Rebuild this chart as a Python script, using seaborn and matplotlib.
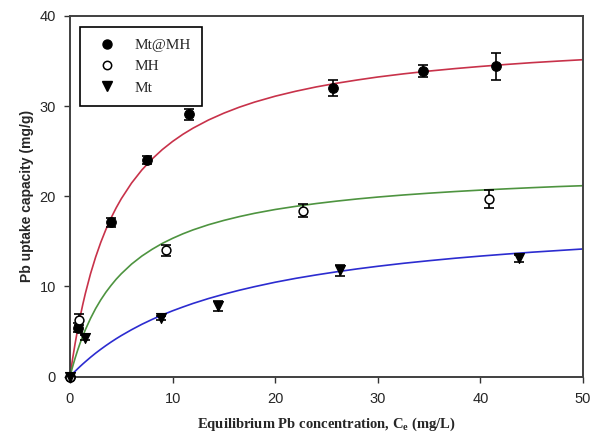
import numpy as np
import pandas as pd
import matplotlib
matplotlib.use("Agg")
import matplotlib.pyplot as plt
from matplotlib.lines import Line2D
import seaborn as sns

# ---- measured points ----
mtmh_x = [0.0, 0.8, 4.0, 7.5, 11.6, 25.6, 34.4, 41.5]
mtmh_y = [0.0, 5.4, 17.1, 24.0, 29.1, 32.0, 33.9, 34.4]
mtmh_err = [0.0, 0.5, 0.5, 0.45, 0.6, 0.9, 0.65, 1.45]

mh_x = [0.0, 0.9, 9.4, 22.7, 40.8]
mh_y = [0.0, 6.3, 14.0, 18.4, 19.7]
mh_err = [0.0, 0.6, 0.6, 0.7, 1.0]

mt_x = [0.0, 1.5, 8.9, 14.4, 26.3, 43.8]
mt_y = [0.0, 4.3, 6.5, 7.8, 11.8, 13.1]
mt_err = [0.0, 0.3, 0.2, 0.55, 0.6, 0.4]

# ---- fitted curves ----
curve_x = [0, 0.1, 0.25, 0.5, 0.75, 1, 1.25, 1.5, 2, 2.5,
           3, 3.5, 4, 4.5, 5, 6, 7, 8, 9, 10,
           11, 12, 13.5, 15, 16.5, 18, 20, 22, 24, 26,
           28, 30, 32.5, 35, 37.5, 40, 42.5, 45, 47.5, 50]
curve_mtmh = [0, 0.79, 1.92, 3.66, 5.24, 6.68, 8.00, 9.22, 11.39, 13.25,
              14.88, 16.31, 17.58, 18.71, 19.72, 21.46, 22.91, 24.13, 25.18, 26.08,
              26.87, 27.56, 28.46, 29.22, 29.88, 30.45, 31.10, 31.65, 32.13, 32.54,
              32.90, 33.23, 33.58, 33.89, 34.16, 34.40, 34.62, 34.82, 34.99, 35.15]
curve_mh = [0, 0.44, 1.06, 2.03, 2.92, 3.74, 4.49, 5.19, 6.44, 7.54,
            8.50, 9.35, 10.10, 10.79, 11.40, 12.47, 13.36, 14.11, 14.77, 15.33,
            15.83, 16.27, 16.84, 17.32, 17.74, 18.11, 18.53, 18.88, 19.19, 19.46,
            19.70, 19.91, 20.14, 20.34, 20.52, 20.68, 20.82, 20.95, 21.07, 21.17]
curve_mt = [0, 0.12, 0.30, 0.58, 0.86, 1.13, 1.39, 1.64, 2.13, 2.59,
            3.02, 3.43, 3.82, 4.19, 4.54, 5.19, 5.79, 6.33, 6.83, 7.29,
            7.71, 8.11, 8.65, 9.13, 9.57, 9.97, 10.46, 10.89, 11.27, 11.62,
            11.94, 12.23, 12.56, 12.85, 13.12, 13.36, 13.58, 13.79, 13.97, 14.15]

x_ticks = [0, 10, 20, 30, 40, 50]
y_ticks = [0, 10, 20, 30, 40]
legend_labels = ["Mt@MH", "MH", "Mt"]

sns.set_style("white")
plt.rcParams['font.family'] = ['Liberation Sans', 'DejaVu Sans']

fig = plt.figure(figsize=(5.92, 4.38), dpi=100)
ax = fig.add_axes([0.1182, 0.1404, 0.8666, 0.8231])

red = "#c8324a"
green = "#4e9440"
blue = "#2c2cd0"

sns.lineplot(x=curve_x, y=curve_mtmh, ax=ax, color=red, lw=1.2, sort=False, zorder=2)
sns.lineplot(x=curve_x, y=curve_mh, ax=ax, color=green, lw=1.2, sort=False, zorder=2)
sns.lineplot(x=curve_x, y=curve_mt, ax=ax, color=blue, lw=1.2, sort=False, zorder=2)

for xs, ys, es in [(mtmh_x, mtmh_y, mtmh_err), (mh_x, mh_y, mh_err), (mt_x, mt_y, mt_err)]:
    ax.errorbar(xs, ys, yerr=es, fmt='none', ecolor='black', elinewidth=1.2,
                capsize=3.5, capthick=1.2, zorder=3)

sns.scatterplot(x=mtmh_x, y=mtmh_y, ax=ax, marker='o', s=48, color='black',
                edgecolor='black', linewidth=0.8, zorder=4, clip_on=False)
sns.scatterplot(x=mh_x, y=mh_y, ax=ax, marker='o', s=40, color='white',
                edgecolor='black', linewidth=1.1, zorder=4, clip_on=False)
sns.scatterplot(x=mt_x, y=mt_y, ax=ax, marker='v', s=52, color='black',
                edgecolor='black', linewidth=0.8, zorder=4, clip_on=False)

ax.set_xlim(0, 50)
ax.set_ylim(0, 40)
ax.set_xticks(x_ticks)
ax.set_yticks(y_ticks)
ax.tick_params(axis='both', direction='out', length=4, width=1.0, color='#333333',
               labelsize=10.5, left=True, bottom=True)
ax.tick_params(axis='x', pad=7)
ax.tick_params(axis='y', pad=6)
for sp in ax.spines.values():
    sp.set_color('#404040')
    sp.set_linewidth(1.4)

ax.set_xlabel("Equilibrium Pb concentration, C$_\\mathregular{e}$ (mg/L)",
              family=['Liberation Serif'], fontweight='bold', fontsize=10.5, labelpad=7)
ax.set_ylabel("Pb uptake capacity (mg/g)", family=['Liberation Sans'],
              fontweight='bold', fontsize=10, labelpad=4)

handles = [
    Line2D([], [], ls='none', marker='o', ms=6.5, mfc='black', mec='black'),
    Line2D([], [], ls='none', marker='o', ms=6, mfc='white', mec='black', mew=1.1),
    Line2D([], [], ls='none', marker='v', ms=7, mfc='black', mec='black'),
]
leg = ax.legend(handles, legend_labels, loc='upper left', bbox_to_anchor=(0.02, 0.97),
                frameon=True, fancybox=False, edgecolor='black', framealpha=1,
                prop={'family': 'Liberation Serif', 'size': 11},
                handletextpad=0.8, borderpad=0.75, labelspacing=0.5,
                handlelength=2.0, borderaxespad=0)
leg.get_frame().set_linewidth(1.2)

fig.savefig("out.png", dpi=100)
